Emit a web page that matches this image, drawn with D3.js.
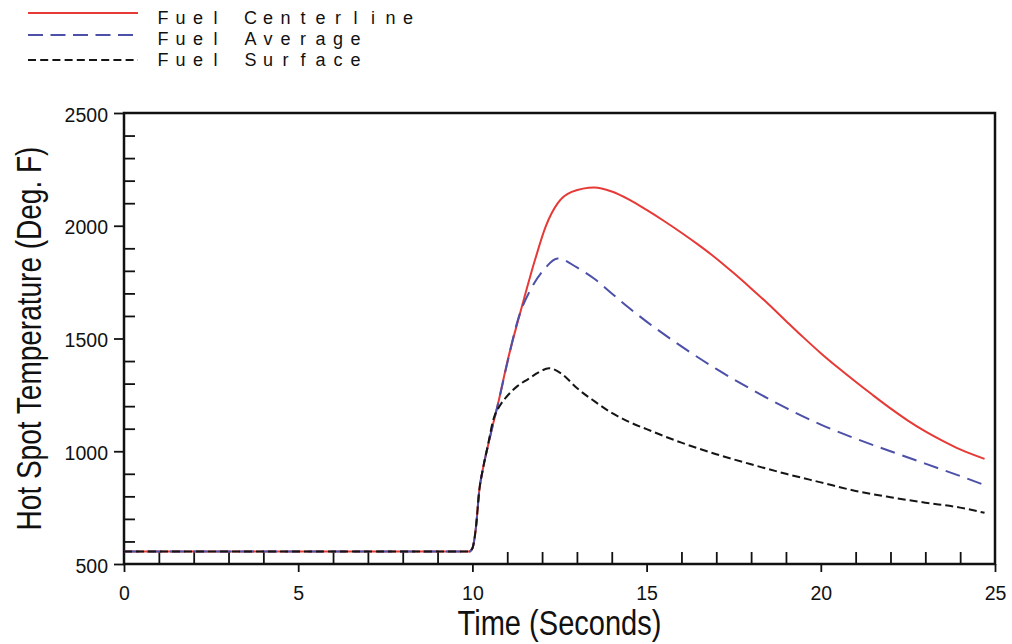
<!DOCTYPE html>
<html>
<head>
<meta charset="utf-8">
<script src="https://cdn.jsdelivr.net/npm/d3@7/dist/d3.min.js"></script>
<style>
    body { margin: 0; background: #fff; }
    svg { display: block; }
    .tick-label text { font-family: "Liberation Sans", Arial, sans-serif; font-size: 19.5px; fill: #111; }
    .axis-title { font-family: "Liberation Sans", Arial, sans-serif; font-size: 35px; fill: #111; }
    .legend-text { font-family: "Liberation Sans", Arial, sans-serif; font-size: 18px; fill: #111; }
</style>
</head>
<body>
<div id="chart"></div>
<script>

// Series names (legend order)
var seriesNames = ["Fuel Centerline", "Fuel Average", "Fuel Surface"];

// Fuel centerline (time in seconds, temperature in deg F)
var centerlineTime = [0, 9.9, 10.0, 10.1, 10.2, 10.3, 10.5, 10.75, 11.0, 11.4, 11.8, 12.1, 12.45, 12.85, 13.5, 14.0, 14.5, 15.0, 15.5, 16.0, 16.5, 17.0, 17.5, 18.0, 18.5, 19.0, 19.5, 20.0, 20.5, 21.0, 21.5, 22.0, 22.5, 23.0, 23.5, 24.0, 24.7];
var centerlineTemp = [555, 555, 570, 660, 830, 920, 1060, 1220, 1395, 1630, 1850, 1995, 2100, 2150, 2170, 2152, 2116, 2070, 2021, 1969, 1914, 1855, 1790, 1722, 1652, 1578, 1505, 1435, 1370, 1308, 1248, 1190, 1136, 1088, 1046, 1008, 966];

// Fuel average
var averageTime = [0, 9.9, 10.0, 10.1, 10.2, 10.3, 10.5, 10.75, 11.0, 11.3, 11.7, 12.05, 12.45, 13.0, 13.5, 14.0, 14.5, 15, 16, 17, 18, 19, 20, 21, 22, 23, 24, 24.7];
var averageTemp = [555, 555, 570, 660, 830, 920, 1060, 1220, 1390, 1580, 1725, 1805, 1855, 1815, 1765, 1700, 1635, 1575, 1465, 1365, 1275, 1192, 1118, 1056, 1000, 945, 890, 850];

// Fuel surface
var surfaceTime = [0, 9.9, 10.0, 10.1, 10.2, 10.3, 10.45, 10.6, 10.8, 11.0, 11.3, 11.6, 11.9, 12.2, 12.55, 13.0, 13.5, 14.0, 14.5, 15, 16, 17, 18, 19, 20, 21, 22, 23, 24, 24.7];
var surfaceTemp = [555, 555, 570, 660, 830, 920, 1030, 1140, 1205, 1245, 1290, 1320, 1350, 1368, 1345, 1280, 1222, 1170, 1130, 1098, 1038, 987, 942, 900, 862, 824, 796, 772, 750, 727];

// Axis ticks
var xTickValues = [0, 5, 10, 15, 20, 25];
var yTickValues = [500, 1000, 1500, 2000, 2500];
var xTitle = "Time (Seconds)";
var yTitle = "Hot Spot Temperature (Deg. F)";

var margin = {top: 113, right: 17, bottom: 80, left: 124};
var width = 1012 - margin.left - margin.right;
var height = 644 - margin.top - margin.bottom;

var svg = d3.select("#chart").append("svg")
    .attr("width", 1012)
    .attr("height", 644);

var g = svg.append("g")
    .attr("transform", "translate(" + margin.left + "," + margin.top + ")");

// Scales
var x = d3.scaleLinear().domain([0, 25]).range([0, width]);
var y = d3.scaleLinear().domain([500, 2500]).range([height, 0]);

// Minor ticks every 1 s and every 100 deg
var xMinor = d3.range(0, 26).filter(d => d % 5 != 0);
var yMinor = d3.range(500, 2600, 100).filter(d => d % 500 != 0);

// Major ticks outside with labels
g.append("g")
    .attr("class", "tick-label")
    .attr("transform", "translate(0," + height + ")")
    .call(d3.axisBottom(x).tickValues(xTickValues).tickSize(8).tickPadding(14).tickFormat(d3.format("d")));
g.append("g")
    .attr("class", "tick-label y-labels")
    .call(d3.axisLeft(y).tickValues(yTickValues).tickSize(10).tickPadding(6).tickFormat(d3.format("d")));

// Minor ticks inside
g.append("g")
    .attr("transform", "translate(0," + height + ")")
    .call(d3.axisBottom(x).tickValues(xMinor).tickSize(-12).tickFormat(""));
g.append("g")
    .call(d3.axisLeft(y).tickValues(yMinor).tickSize(-11).tickFormat(""));

g.selectAll(".domain").remove();
g.selectAll(".tick line").attr("stroke", "#111").attr("stroke-width", 1.8);
g.selectAll(".y-labels text").attr("dy", "0.42em");

// Frame
g.append("rect")
    .attr("width", width)
    .attr("height", height)
    .attr("fill", "none")
    .attr("stroke", "#111")
    .attr("stroke-width", 2.5);

// Lines
var series = [
    {name: seriesNames[0], time: centerlineTime, temp: centerlineTemp, color: "#e63a36", dash: null},
    {name: seriesNames[1], time: averageTime, temp: averageTemp, color: "#4c50a8", dash: "15,8"},
    {name: seriesNames[2], time: surfaceTime, temp: surfaceTemp, color: "#151515", dash: "8,4"}
];

var line = d3.line()
    .x(d => x(d[0]))
    .y(d => y(d[1]))
    .curve(d3.curveMonotoneX);

series.forEach(s => {
    g.append("path")
        .datum(s.time.map((t, i) => [t, s.temp[i]]))
        .attr("fill", "none")
        .attr("stroke", s.color)
        .attr("stroke-width", 2)
        .attr("stroke-dasharray", s.dash)
        .attr("d", line);
});

// Axis titles (condensed by a horizontal squeeze)
svg.append("text")
    .attr("class", "axis-title")
    .attr("transform", "translate(" + (margin.left + width / 2) + ",635) scale(0.83,1)")
    .attr("text-anchor", "middle")
    .text(xTitle);
svg.append("text")
    .attr("class", "axis-title")
    .attr("transform", "translate(41," + (margin.top + height / 2) + ") rotate(-90) scale(0.8,1)")
    .attr("text-anchor", "middle")
    .text(yTitle);

// Legend (top left, spaced-out lettering)
var legendLineY = [13, 35, 60];
var legendTextY = [24, 44.5, 66];
series.forEach((s, i) => {
    svg.append("line")
        .attr("x1", 28).attr("x2", 138)
        .attr("y1", legendLineY[i]).attr("y2", legendLineY[i])
        .attr("stroke", s.color)
        .attr("stroke-width", 2)
        .attr("stroke-dasharray", i == 2 ? "8,4.2" : (i == 1 ? "15,7.5" : null));
    var chars = s.name.split("");
    svg.append("text")
        .attr("class", "legend-text")
        .attr("x", chars.map((c, k) => 163 + k * 17.5).join(" "))
        .attr("y", legendTextY[i])
        .attr("text-anchor", "middle")
        .text(s.name);
});

</script>
</body>
</html>
